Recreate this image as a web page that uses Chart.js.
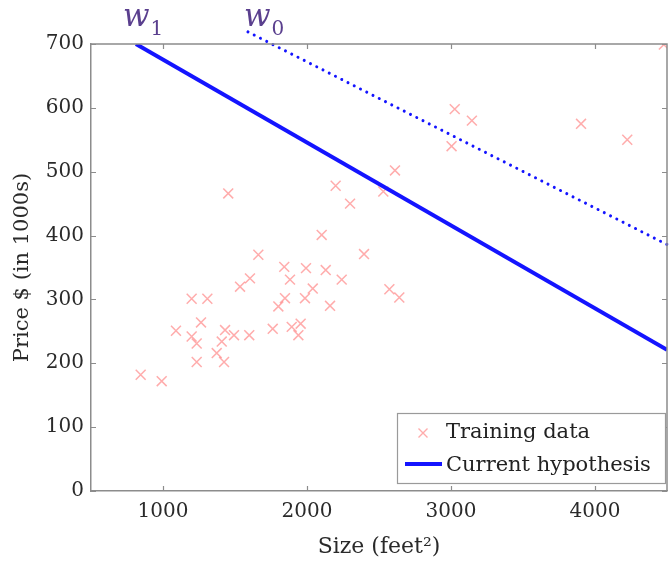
<!DOCTYPE html>
<html><head><meta charset="utf-8">
<script src="https://cdn.jsdelivr.net/npm/chart.js@4/dist/chart.umd.min.js"></script>
<style>html,body{margin:0;padding:0;background:#fff}#wrap{width:669px;height:562px}</style>
</head><body><div id="wrap"><canvas id="c" width="669" height="562"></canvas></div>
<script>
// ---- data ----
const sizeX  = [1453,2199,2299,2102,2396,1662,1842,1993,2130,2241,1882,1604,1535,2040,1986,1847,1801,2160,1199,1308,
                1090,1264,1199,1234,1431,1493,1599,1408,1373,1424,1234,1762,1894,1956,1940,845,991,
                3145,3026,3903,4224,3004,2611,2530,2572,2641,4478];
const priceY = [466,478,450,401,371,370,351,349,346,331,331,333,320,317,302,302,289,290,301,301,
                251,264,242,231,252,244,244,234,216,202,202,254,257,262,244,182,172,
                580,598,575,550,540,502,469,316,303,699];
const hypX = [812, 4500];
const hypY = [700, 221];
const w0X  = [1590, 4500];
const w0Y  = [719, 386];
const xTicks = [1000, 2000, 3000, 4000];
const yTicks = [0, 100, 200, 300, 400, 500, 600, 700];
const seriesLabels = ['Training data', 'Current hypothesis'];
const annotLabels = [['w', '1'], ['w', '0']];

const SERIF = '"DejaVu Serif", "Liberation Serif", serif';
const AXIS = '#8c8c8c';
const PT = 'rgba(255,90,90,0.5)';
const BLUE = '#1414ff';

const decor = {
  id: 'decor',
  afterDraw(chart) {
    const ctx = chart.ctx;
    const {left, right, top, bottom} = chart.chartArea;
    const xs = chart.scales.x, ys = chart.scales.y;
    ctx.save();
    ctx.strokeStyle = AXIS; ctx.lineWidth = 1.5;
    ctx.beginPath();
    ctx.moveTo(left, top); ctx.lineTo(right, top); ctx.lineTo(right, bottom);
    ctx.stroke();
    ctx.lineWidth = 1.2;
    ctx.beginPath();
    xTicks.forEach(v => {
      const p = Math.round(xs.getPixelForValue(v)) + 0.5;
      ctx.moveTo(p, bottom); ctx.lineTo(p, bottom - 5);
      ctx.moveTo(p, top); ctx.lineTo(p, top + 5);
    });
    yTicks.forEach(v => {
      const p = Math.round(ys.getPixelForValue(v)) + 0.5;
      ctx.moveTo(left, p); ctx.lineTo(left + 5, p);
      ctx.moveTo(right, p); ctx.lineTo(right - 5, p);
    });
    ctx.stroke();

    // legend box
    const lw = 268, lh = 70;
    const lx = right - 2 - lw, ly = bottom - 8 - lh;
    ctx.fillStyle = '#fff';
    ctx.fillRect(lx, ly, lw, lh);
    ctx.strokeStyle = '#9a9a9a'; ctx.lineWidth = 1.2;
    ctx.strokeRect(lx + 0.5, ly + 0.5, lw, lh);
    const y1 = ly + 20, y2 = ly + 53;
    const mx = lx + 26, r = 4.5;
    ctx.strokeStyle = PT; ctx.lineWidth = 1.4;
    ctx.beginPath();
    ctx.moveTo(mx - r, y1 - r); ctx.lineTo(mx + r, y1 + r);
    ctx.moveTo(mx + r, y1 - r); ctx.lineTo(mx - r, y1 + r);
    ctx.stroke();
    ctx.strokeStyle = BLUE; ctx.lineWidth = 4;
    ctx.beginPath(); ctx.moveTo(lx + 8, y2 - 2); ctx.lineTo(lx + 45, y2 - 2); ctx.stroke();
    ctx.fillStyle = '#222';
    ctx.font = '21px ' + SERIF;
    ctx.textBaseline = 'middle'; ctx.textAlign = 'left';
    ctx.fillText(chart.data.datasets[0].label, lx + 49, y1);
    ctx.fillText(chart.data.datasets[1].label, lx + 49, y2);

    // w annotations
    ctx.fillStyle = '#5a3f8e';
    ctx.textBaseline = 'alphabetic';
    const starts = [xs.getPixelForValue(hypX[0]) - 13, xs.getPixelForValue(w0X[0]) - 4];
    annotLabels.forEach((lab, i) => {
      ctx.font = 'italic 31px ' + SERIF;
      const x0 = starts[i];
      ctx.fillText(lab[0], x0, 26);
      const w = ctx.measureText(lab[0]).width;
      ctx.font = '20px ' + SERIF;
      ctx.fillText(lab[1], x0 + w + 1, 35);
    });
    ctx.restore();
  }
};

new Chart(document.getElementById('c'), {
  type: 'scatter',
  data: {
    datasets: [
      {
        label: seriesLabels[0],
        data: sizeX.map((v, i) => ({x: v, y: priceY[i]})),
        pointStyle: 'crossRot', pointRadius: 7, pointBorderWidth: 1.5,
        borderColor: PT, backgroundColor: PT, showLine: false, order: 3
      },
      {
        label: seriesLabels[1], type: 'line',
        data: hypX.map((v, i) => ({x: v, y: hypY[i]})),
        borderColor: BLUE, borderWidth: 4, pointRadius: 0, fill: false, tension: 0, order: 2
      },
      {
        label: 'w0', type: 'line',
        data: w0X.map((v, i) => ({x: v, y: w0Y[i]})),
        borderColor: BLUE, borderWidth: 3, borderDash: [0.01, 7], borderCapStyle: 'round',
        pointRadius: 0, fill: false, tension: 0, clip: false, order: 1
      }
    ]
  },
  options: {
    responsive: false, animation: false, devicePixelRatio: 1,
    layout: {autoPadding: false, padding: {top: 44, right: 2, left: 0, bottom: 0}},
    plugins: {legend: {display: false}, tooltip: {enabled: false}},
    scales: {
      x: {
        type: 'linear', min: 500, max: 4500,
        afterBuildTicks: s => { s.ticks = xTicks.map(v => ({value: v})); },
        afterFit: s => { s.height = 71; },
        grid: {drawOnChartArea: false, drawTicks: false},
        border: {display: true, color: AXIS, width: 1.5},
        ticks: {font: {family: SERIF, size: 20}, color: '#2a2a2a', padding: 9, maxRotation: 0,
                callback: v => String(v)},
        title: {display: true, text: 'Size (feet²)', font: {family: SERIF, size: 22}, color: '#2a2a2a', padding: {top: 0, bottom: 2}}
      },
      y: {
        type: 'linear', min: 0, max: 700,
        afterBuildTicks: s => { s.ticks = yTicks.map(v => ({value: v})); },
        afterFit: s => { s.width = 91; },
        grid: {drawOnChartArea: false, drawTicks: false},
        border: {display: true, color: AXIS, width: 1.5},
        ticks: {font: {family: SERIF, size: 20}, color: '#2a2a2a', padding: 7, callback: v => String(v)},
        title: {display: true, text: 'Price $ (in 1000s)', font: {family: SERIF, size: 21}, color: '#2a2a2a', padding: {top: 10, bottom: 0}}
      }
    }
  },
  plugins: [decor]
});
</script>
</body></html>
